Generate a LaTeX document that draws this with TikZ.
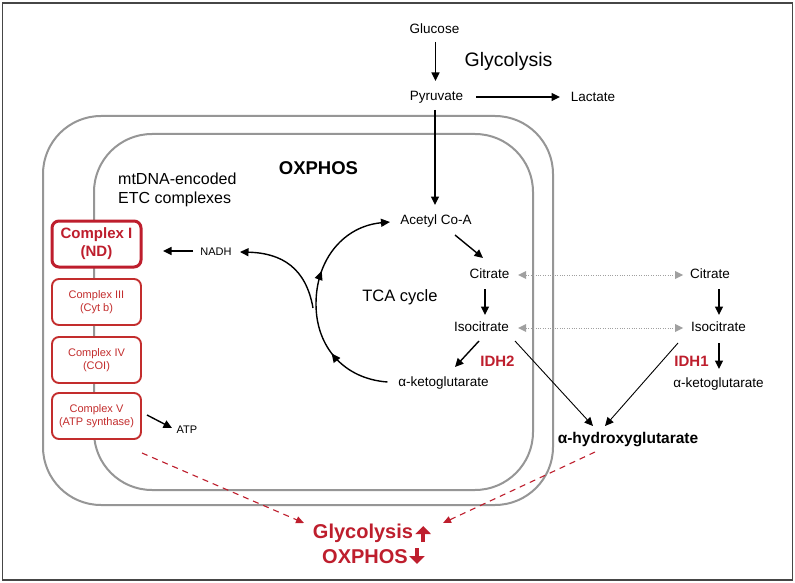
\documentclass[tikz,border=0pt]{standalone}
\usepackage{fontspec}
\setmainfont{Liberation Sans}
\usetikzlibrary{arrows.meta,calc,decorations.markings}
\definecolor{dred}{RGB}{190,30,45}
\definecolor{cred}{RGB}{195,45,45}
\definecolor{memb}{RGB}{150,150,150}
\definecolor{framec}{RGB}{70,70,70}
\definecolor{dotc}{RGB}{160,160,160}
\begin{document}
\begin{tikzpicture}[x=1pt,y=-1pt,
  lbl/.style={font=\fontsize{13.5}{15}\selectfont, inner sep=1pt},
  small/.style={font=\fontsize{11}{13}\selectfont, inner sep=1pt},
  arr/.style={-{Triangle[length=8.5pt,width=8pt]}, line width=1.4pt},
  thinarr/.style={-{Triangle[length=8.5pt,width=8pt]}, line width=0.9pt},
  dottip/.tip={Triangle[length=8pt,width=8pt,line width=0pt,fill=dotc]},
  dotarr/.style={{dottip}-{dottip}, draw=dotc, line width=1pt, dash pattern=on 1pt off 1.4pt},
  reddash/.style={draw=dred, dash pattern=on 6pt off 5pt, line width=1.1pt, -{Triangle[length=8pt,width=7pt]}},
  membrane/.style={draw=memb, line width=2pt, rounded corners=58pt},
  cbox/.style={draw=cred, rounded corners=7pt, fill=white, minimum width=89pt, minimum height=46pt, align=center, text=cred, line width=1.9pt, font=\fontsize{11}{13}\selectfont, inner sep=0pt},
  bigarr/.style={draw=dred, line width=4.5pt, -{Triangle[length=8pt,width=15pt]}}
]
\useasboundingbox (0,0) rectangle (795,583);
\fill[white] (0,0) rectangle (795,583);
\draw[framec, line width=1.6pt] (2.5,3) rectangle (792.5,580);

% membranes
\draw[membrane] (43,116) rectangle (553,505);
\draw[membrane] (94,134) rectangle (533,490);

% glycolysis
\node[lbl] (glucose) at (434.5,29) {Glucose};
\node[font=\fontsize{19.5}{22}\selectfont, inner sep=1pt] (glyhead) at (508.5,61) {Glycolysis};
\node[lbl] (pyruvate) at (436.5,97) {Pyruvate};
\node[lbl] (lactate) at (593,97) {Lactate};

% headers
\node[font=\bfseries\fontsize{18.5}{21}\selectfont, inner sep=1pt] (oxphos) at (318.5,168) {OXPHOS};
\node[font=\fontsize{16}{19}\selectfont, align=left, anchor=west, inner sep=0pt] (mtdna) at (118,189.5) {mtDNA-encoded\\ETC complexes};

% complexes
\node[cbox, draw=dred, text=dred, line width=3pt, font=\bfseries\fontsize{15}{18}\selectfont] (c1) at (96.5,244) {Complex I\\(ND)};
\node[cbox] (c3) at (96.5,302) {Complex III\\(Cyt b)};
\node[cbox] (c4) at (96.5,360) {Complex IV\\(COI)};
\node[cbox] (c5) at (96.5,416) {Complex V\\(ATP synthase)};

\node[small] (nadh) at (216,252) {NADH};
\node[small] (atp) at (187,430) {ATP};

% TCA
\node[lbl] (acetyl) at (436,221) {Acetyl Co-A};
\node[lbl] (citrate) at (489.5,274) {Citrate};
\node[font=\fontsize{16.5}{19}\selectfont, inner sep=1pt] (tca) at (400,297) {TCA cycle};
\node[lbl] (iso) at (481.5,327) {Isocitrate};
\node[font=\bfseries\fontsize{15}{17}\selectfont, text=dred, inner sep=1pt] (idh2) at (497.5,361) {IDH2};
\node[lbl] (akg) at (443.5,383) {α-ketoglutarate};

% cytosol
\node[lbl] (citR) at (710,274) {Citrate};
\node[lbl] (isoR) at (718.5,327) {Isocitrate};
\node[font=\bfseries\fontsize{15}{17}\selectfont, text=dred, inner sep=1pt] (idh1) at (691.5,361) {IDH1};
\node[lbl] (akgR) at (718.5,384) {α-ketoglutarate};
\node[font=\bfseries\fontsize{15.5}{17}\selectfont, inner sep=1pt] (ahg) at (628,440) {α-hydroxyglutarate};

% result
\node[font=\bfseries\fontsize{20}{24}\selectfont, text=dred, inner sep=1pt] (resg) at (363,533) {Glycolysis};
\node[font=\bfseries\fontsize{20}{24}\selectfont, text=dred, inner sep=1pt] (reso) at (365,557) {OXPHOS};
\draw[bigarr] ($(resg.east)+(9,9)$) -- ($(resg.east)+(9,-7)$);
\draw[bigarr] ($(reso.east)+(8,-9)$) -- ($(reso.east)+(8,7)$);

% glycolysis arrows
\draw[arr] ($(glucose)+(1,13)$) -- ($(pyruvate)+(-1,-16)$);
\draw[arr] ($(pyruvate)+(39.5,0)$) -- ($(lactate)+(-33,0)$);
\draw[arr] ($(pyruvate)+(-1.5,13)$) -- ($(acetyl)+(-1,-16)$);

% TCA arrows
\draw[arr] ($(acetyl)+(19,14)$) -- ($(citrate)+(-6.5,-16)$);
\draw[arr] ($(citrate)+(-4.5,15)$) -- ($(iso)+(3.5,-12)$);
\draw[arr] ($(iso)+(-2.5,14)$) -- ($(akg)+(11.5,-16)$);
\draw[thinarr] ($(iso)+(33.5,14)$) -- ($(ahg)+(-35,-14)$);
\draw[thinarr] ($(isoR)+(-40.5,16)$) -- ($(ahg)+(-23,-14)$);
\draw[arr] ($(citR)+(9,15)$) -- ($(isoR)+(0.5,-12)$);
\draw[arr] ($(isoR)+(0.5,16)$) -- ($(akgR)+(0.5,-15)$);

% dotted exchange
\draw[dotarr] ($(citrate)+(28.5,1)$) -- ($(citR)+(-27,1)$);
\draw[dotarr] ($(iso)+(36.5,1)$) -- ($(isoR)+(-35.5,1)$);

% TCA cycle arc
\coordinate (tcaleft) at (316,304);
\draw[line width=1.4pt,
  postaction={decorate},
  decoration={markings,
    mark=at position 0.27 with {\arrow{Triangle[length=9pt,width=8pt]}},
    mark=at position 0.63 with {\arrow{Triangle[length=9pt,width=8pt]}}},
  -{Triangle[length=9pt,width=8pt]}]
  ($(akg)+(-56,-1)$) .. controls (345,379) and (316,348) .. (tcaleft)
  .. controls (316,258) and (345,226) .. ($(acetyl)+(-46,1)$);

% NADH
\coordinate (nadhstart) at (313,308);
\draw[arr] (nadhstart) .. controls (306,268) and (282,253) .. ($(nadh)+(24,0)$);
\draw[arr] ($(nadh)+(-23,-1)$) -- ($(c1)+(66.5,7)$);
\draw[arr] ($(c5)+(50.5,-1)$) -- ($(atp)+(-15,-2)$);

% red dashed
\draw[reddash] ($(c5)+(45.5,37)$) -- ($(resg)+(-59,-10)$);
\draw[reddash] ($(ahg)+(-33,12)$) -- ($(resg)+(80,-10)$);
\end{tikzpicture}
\end{document}
